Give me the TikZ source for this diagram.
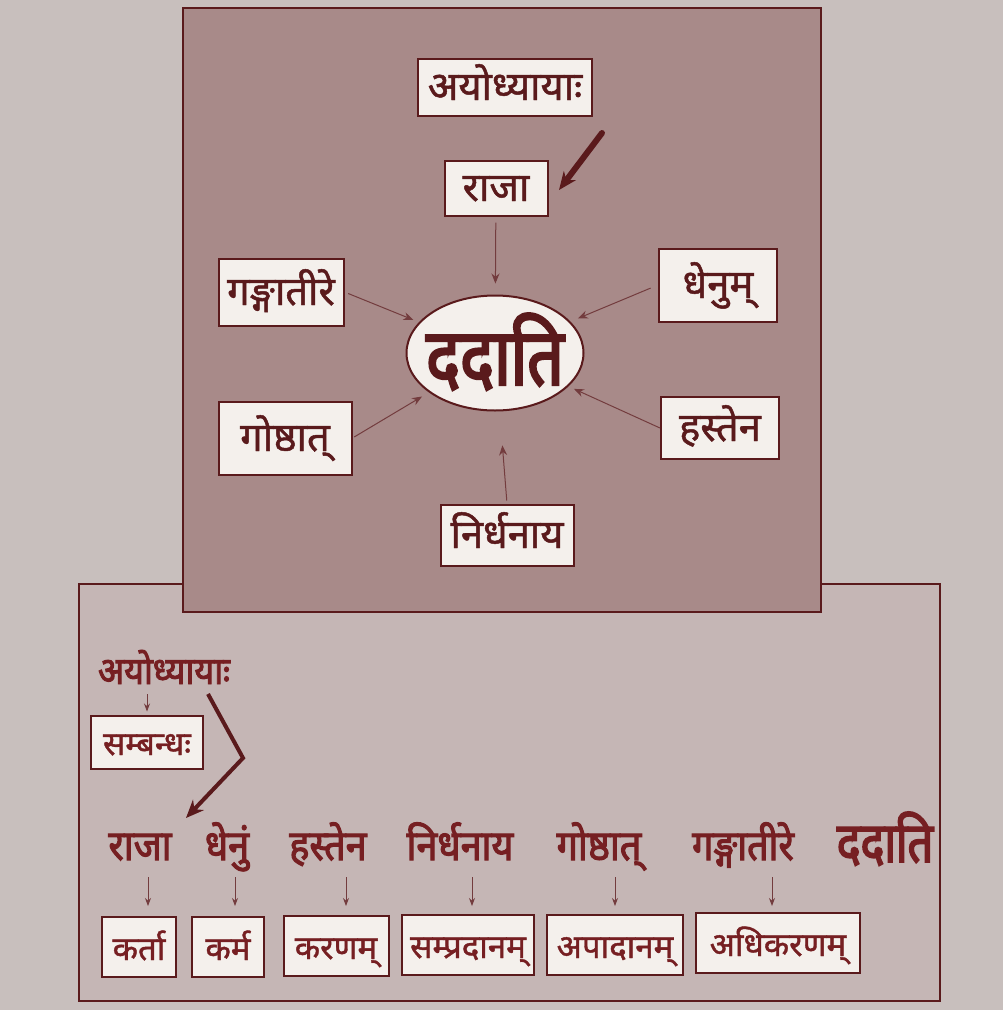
\documentclass[tikz,border=0pt]{standalone}
\usepackage{fontspec}
\usetikzlibrary{shapes.geometric,arrows.meta}
\newfontfamily\devm[Script=Devanagari,FakeBold=1.2]{Noto Sans}
\newfontfamily\devb[Script=Devanagari,FakeBold=2.5,FakeStretch=0.9]{Noto Sans}
\newfontfamily\devc[Script=Devanagari,FakeBold=3,FakeStretch=0.8]{Noto Sans}
\definecolor{pagebg}{HTML}{C8BFBD}
\definecolor{toppanel}{HTML}{A88A89}
\definecolor{botpanel}{HTML}{C5B6B5}
\definecolor{maroon}{HTML}{5A1A1C}
\definecolor{boxfill}{HTML}{F4F0EC}
\definecolor{redtext}{HTML}{761F22}
\tikzset{
  wbox/.style={draw=maroon, line width=2pt, fill=boxfill, text=maroon,
    font=\devm\fontsize{40}{42}\selectfont, inner sep=0pt, anchor=center,
    text height=26pt, text depth=0pt},
  sbox/.style={draw=maroon, line width=2pt, fill=boxfill, text=redtext,
    font=\devm\fontsize{33}{36}\selectfont, inner sep=0pt, anchor=center,
    text height=26pt, text depth=0pt},
  word/.style={text=redtext, font=\devb\fontsize{42}{44}\selectfont, inner sep=0pt, anchor=base},
  arr/.style={draw=maroon!85, line width=1pt, -{Stealth[length=10pt,width=8pt]}},
  sarr/.style={draw=maroon!85, line width=0.9pt, -{Stealth[length=8pt,width=6pt]}},
  brush/.style={draw=maroon, line width=6pt, line cap=round, line join=miter, -{Stealth[length=18pt,width=15pt]}},
  panel/.style={draw=maroon, line width=1.5pt}
}
\begin{document}
\begin{tikzpicture}[x=1pt,y=-1pt]
\fill[pagebg] (0,0) rectangle (1003,1010);
\useasboundingbox (0,0) rectangle (1003,1010);
% panels
\filldraw[panel, fill=botpanel] (79,584) rectangle (940,1001);
\filldraw[panel, fill=toppanel] (183,8) rectangle (821,612);

% top diagram
\node[draw=maroon, line width=2pt, fill=boxfill, ellipse, minimum width=177pt, minimum height=115pt, inner sep=-14pt,
  text=maroon, font=\devc\fontsize{80}{82}\selectfont, text height=64pt, text depth=0pt] (dadati) at (495,353) {ददाति};
\node[wbox, minimum width=174pt, minimum height=57pt] (ayo) at (505,87) {अयोध्यायाः};
\node[wbox, minimum width=103pt, minimum height=55pt] (raja) at (496,188) {राजा};
\node[wbox, minimum width=125pt, minimum height=67pt] (ganga) at (281,292) {गङ्गातीरे};
\node[wbox, minimum width=118pt, minimum height=73pt] (dhenum) at (718,285) {धेनुम्};
\node[wbox, minimum width=133pt, minimum height=73pt] (goshthat) at (285,438) {गोष्ठात्};
\node[wbox, minimum width=118pt, minimum height=62pt] (hastena) at (720,428) {हस्तेन};
\node[wbox, minimum width=133pt, minimum height=61pt] (nirdhanaya) at (507,535) {निर्धनाय};

\coordinate (b1) at (602,133);
\coordinate (b2) at (559,190);
\draw[brush] (b1) -- (b2);

\draw[arr, shorten <=6pt, shorten >=11pt] (raja) -- (dadati);
\draw[arr, shorten <=4pt, shorten >=6pt] (ganga.east) -- (dadati);
\draw[arr, shorten <=8pt, shorten >=8pt] (dhenum.west) -- (dadati);
\draw[arr, shorten <=2pt, shorten >=8pt] (goshthat.east) -- (dadati);
\draw[arr, shorten <=0pt, shorten >=6pt] (hastena.west) -- (dadati);
\draw[arr, shorten <=3pt, shorten >=34pt] (nirdhanaya.north) -- (dadati);

% bottom diagram
\node[word, font=\devb\fontsize{38}{40}\selectfont] (bayo) at (164,684) {अयोध्यायाः};
\node[sbox, minimum width=112pt, minimum height=53pt] (sambandha) at (147,742) {सम्बन्धः};
\draw[sarr, shorten <=10pt, shorten >=3pt] (bayo.south -| sambandha) -- (sambandha.north);

\node[word] (w1) at (140,860) {राजा};
\node[word] (w2) at (227,860) {धेनुं};
\node[word] (w3) at (328,860) {हस्तेन};
\node[word] (w4) at (460,860) {निर्धनाय};
\node[word] (w5) at (599,860) {गोष्ठात्};
\node[word] (w6) at (743,860) {गङ्गातीरे};
\node[word, font=\devc\fontsize{56}{60}\selectfont] (w7) at (885,862) {ददाति};

\coordinate (z1) at (208,694);
\coordinate (z2) at (243,758);
\coordinate (z3) at (186,818);
\draw[brush, line width=4pt, line cap=butt] (z1) -- (z2) -- (z3);

\node[sbox, minimum width=74pt, minimum height=60pt] (k1) at (139,947) {कर्ता};
\node[sbox, minimum width=72pt, minimum height=60pt] (k2) at (228,947) {कर्म};
\node[sbox, minimum width=105pt, minimum height=60pt] (k3) at (336,946) {करणम्};
\node[sbox, minimum width=132pt, minimum height=60pt] (k4) at (468,945) {सम्प्रदानम्};
\node[sbox, minimum width=136pt, minimum height=60pt] (k5) at (615,945) {अपादानम्};
\node[sbox, minimum width=164pt, minimum height=60pt] (k6) at (778,943) {अधिकरणम्};

\foreach \w/\k/\x in {w1/k1/148, w2/k2/235, w3/k3/346, w4/k4/472, w5/k5/615, w6/k6/772}{
  \draw[sarr] (\x,877) -- (\x,906);
}
\end{tikzpicture}
\end{document}
